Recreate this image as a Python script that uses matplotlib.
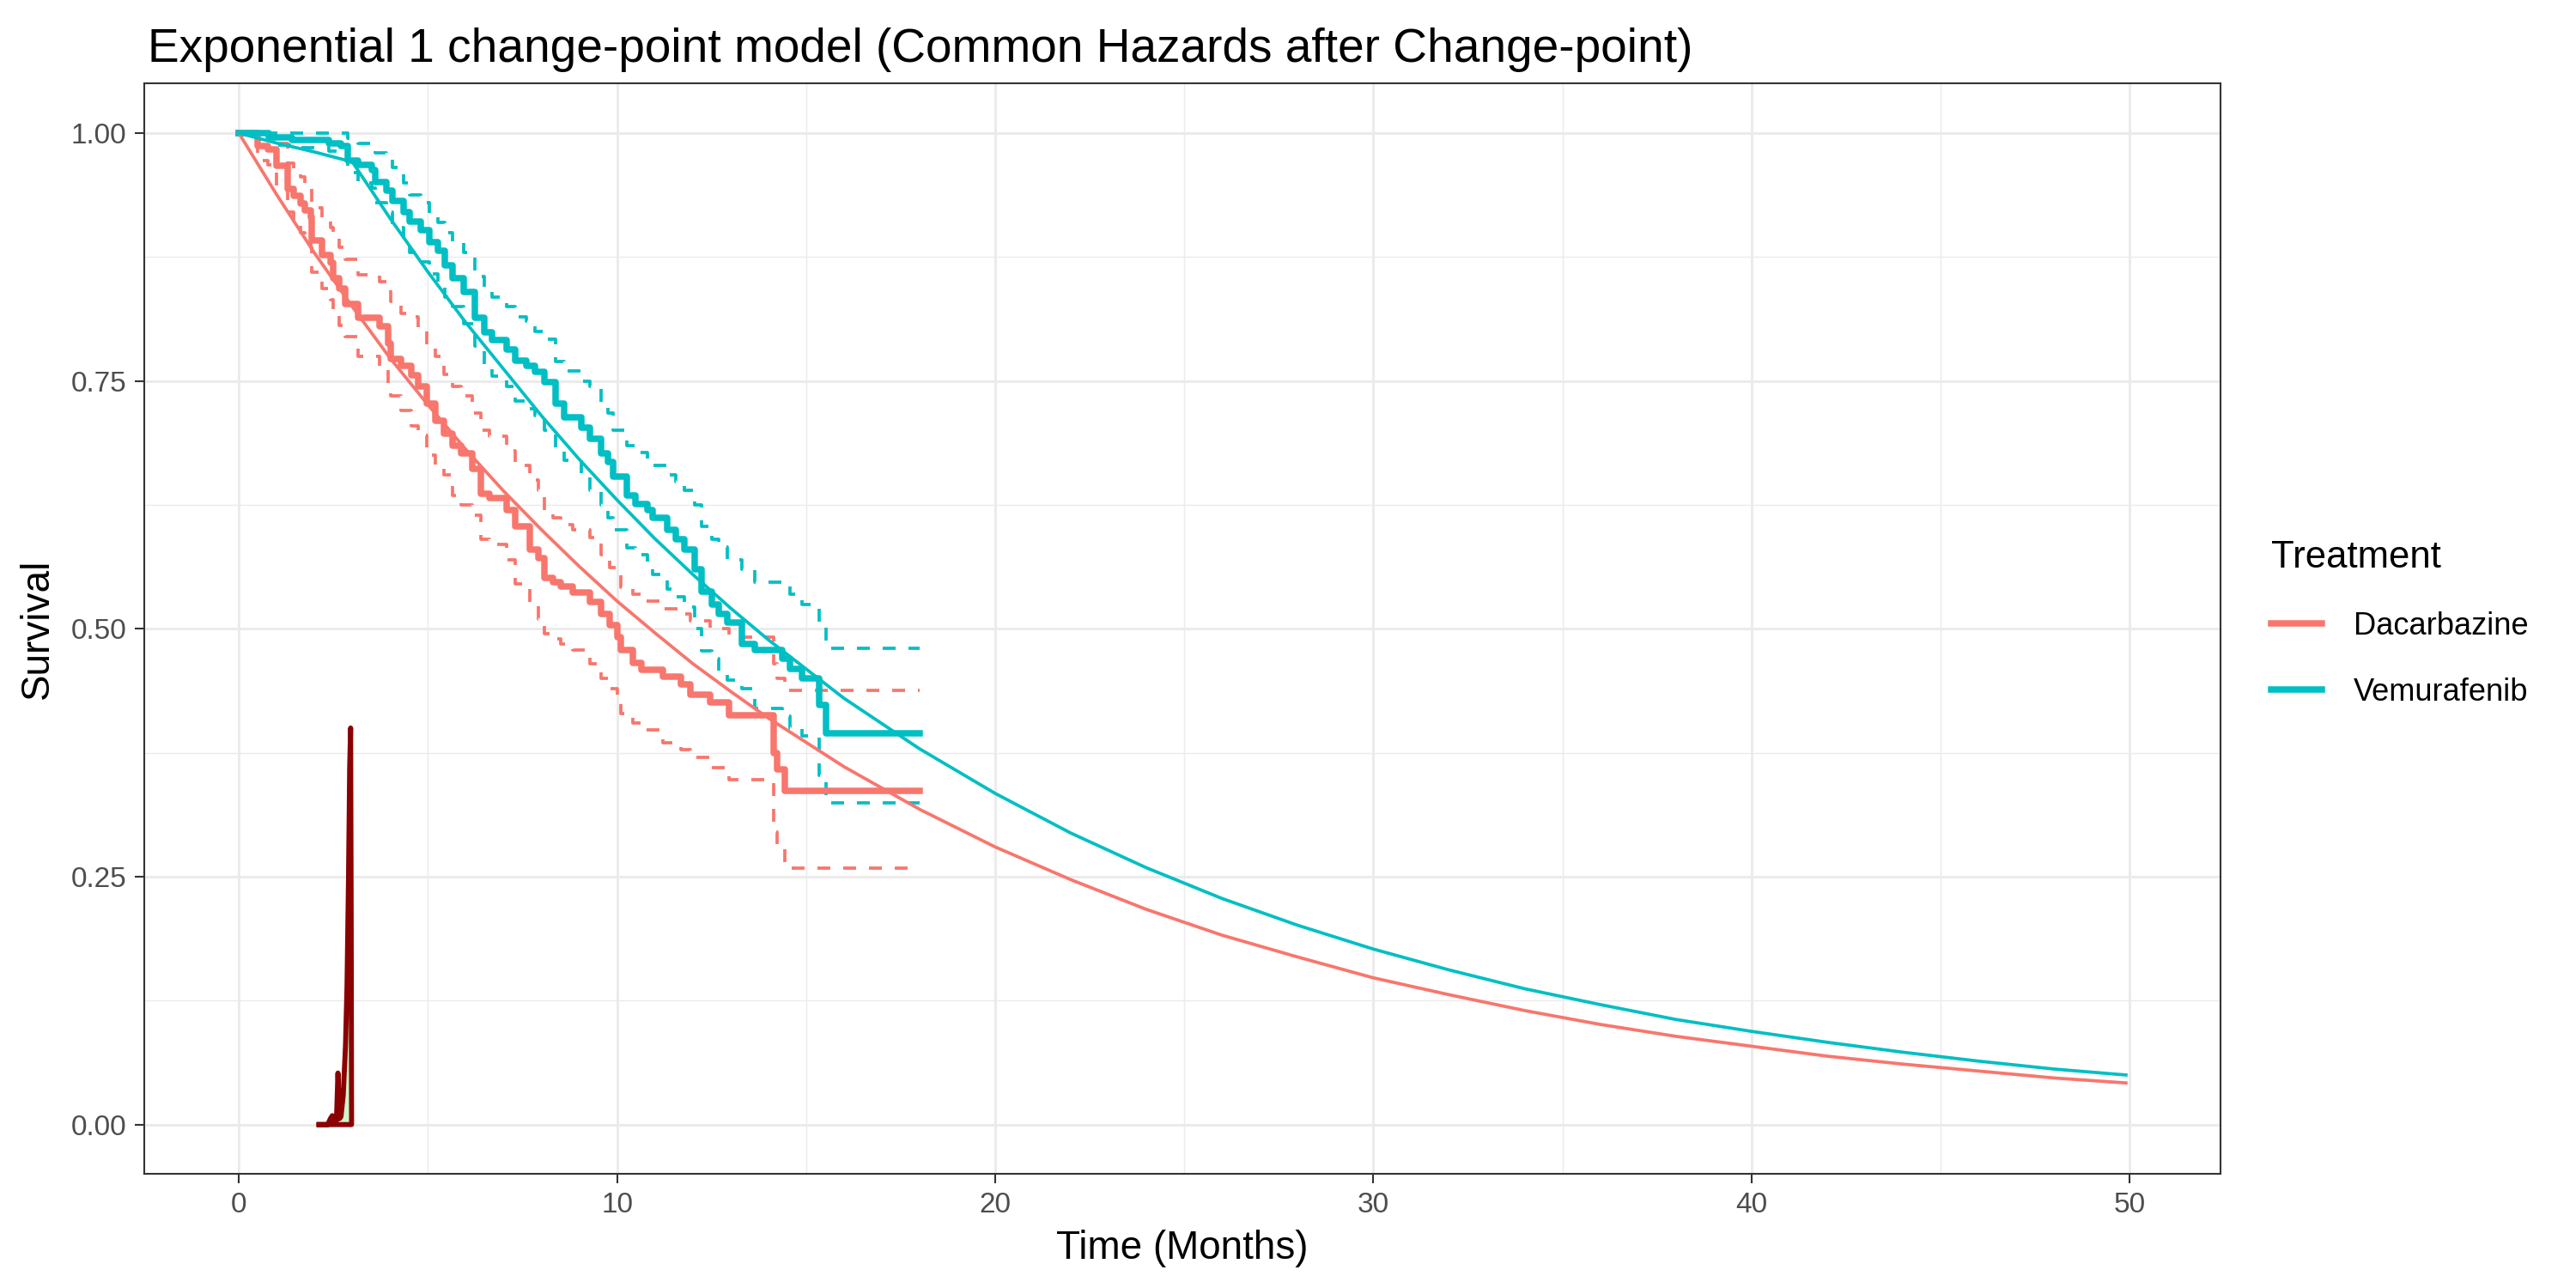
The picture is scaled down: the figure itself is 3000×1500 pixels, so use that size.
import numpy as np
import matplotlib.pyplot as plt
from matplotlib.lines import Line2D
from matplotlib.ticker import MultipleLocator

plt.rcParams['font.family'] = ['Liberation Sans', 'DejaVu Sans']

red = '#F8766D'
teal = '#00BFC4'

follow_up_end = 18.0

# Kaplan-Meier estimate with 95% band, Dacarbazine
dac_time = [0, 0.5, 0.76, 1.0, 1.3, 1.44, 1.63, 1.74, 1.9, 1.93, 2.2, 2.43, 2.5, 2.65, 2.8,
            3.15, 3.71, 3.94, 4.02, 4.28, 4.55, 4.75, 4.96, 5.19, 5.42, 5.65, 5.87, 6.18,
            6.4, 6.63, 7.08, 7.31, 7.69, 7.92, 8.07, 8.3, 8.52, 8.83, 9.28, 9.58, 9.81,
            10.0, 10.11, 10.42, 10.65, 11.21, 11.7, 11.93, 12.46, 12.95, 14.13, 14.24, 14.43]
dac_surv = [1.0, 0.987, 0.984, 0.967, 0.944, 0.9365, 0.929, 0.922, 0.915, 0.892, 0.877, 0.869,
            0.854, 0.843, 0.828, 0.814, 0.805, 0.788, 0.772, 0.765, 0.756, 0.745, 0.727, 0.710,
            0.697, 0.685, 0.677, 0.661, 0.636, 0.632, 0.620, 0.603, 0.580, 0.571, 0.551, 0.547,
            0.5425, 0.537, 0.527, 0.515, 0.5035, 0.492, 0.479, 0.466, 0.459, 0.4515, 0.444,
            0.434, 0.4256, 0.4126, 0.375, 0.358, 0.337]
dac_upper = [1.0, 1.0, 0.999, 0.990, 0.970, 0.962, 0.956, 0.950, 0.944, 0.925, 0.913, 0.905,
             0.895, 0.885, 0.873, 0.857, 0.850, 0.843, 0.830, 0.818, 0.815, 0.800, 0.785, 0.775,
             0.757, 0.745, 0.735, 0.718, 0.700, 0.694, 0.680, 0.665, 0.650, 0.640, 0.618, 0.612,
             0.605, 0.600, 0.592, 0.575, 0.562, 0.555, 0.542, 0.535, 0.528, 0.520, 0.515,
             0.508, 0.500, 0.492, 0.465, 0.450, 0.438]
dac_lower = [1.0, 0.972, 0.968, 0.945, 0.920, 0.910, 0.900, 0.893, 0.885, 0.860, 0.843, 0.832,
             0.820, 0.806, 0.795, 0.775, 0.762, 0.745, 0.735, 0.720, 0.705, 0.695, 0.675, 0.665,
             0.655, 0.635, 0.625, 0.615, 0.590, 0.585, 0.570, 0.545, 0.525, 0.510, 0.495, 0.490,
             0.485, 0.479, 0.465, 0.450, 0.440, 0.425, 0.415, 0.405, 0.398, 0.385, 0.378,
             0.370, 0.360, 0.348, 0.295, 0.278, 0.259]

# Kaplan-Meier estimate with 95% band, Vemurafenib
vem_time = [0, 0.8, 1.4, 2.39, 2.7, 2.88, 3.15, 3.52, 3.6, 3.9, 4.05, 4.36, 4.51, 4.81, 5.04,
            5.27, 5.45, 5.645, 5.95, 6.25, 6.48, 6.7, 7.08, 7.31, 7.61, 7.84, 8.07, 8.37, 8.6,
            9.05, 9.28, 9.58, 9.77, 9.89, 10.265, 10.49, 10.8, 10.95, 11.33, 11.55, 11.78,
            12.05, 12.24, 12.5, 12.69, 12.92, 13.3, 13.64, 14.36, 14.58, 14.89, 15.34, 15.53]
vem_surv = [1.0, 0.9957, 0.9928, 0.990, 0.987, 0.9726, 0.968, 0.9625, 0.951, 0.942, 0.932,
            0.9206, 0.9105, 0.902, 0.890, 0.8817, 0.867, 0.854, 0.840, 0.814, 0.799, 0.791,
            0.782, 0.7705, 0.765, 0.759, 0.749, 0.727, 0.713, 0.703, 0.692, 0.677, 0.668,
            0.6536, 0.635, 0.626, 0.620, 0.612, 0.600, 0.590, 0.580, 0.560, 0.538, 0.525,
            0.515, 0.506, 0.485, 0.479, 0.470, 0.460, 0.450, 0.423, 0.395]
vem_upper = [1.0, 1.0, 1.0, 1.0, 1.0, 0.995, 0.990, 0.987, 0.980, 0.975, 0.965, 0.950, 0.938,
             0.930, 0.918, 0.910, 0.900, 0.890, 0.880, 0.855, 0.843, 0.835, 0.825, 0.815,
             0.810, 0.800, 0.792, 0.770, 0.760, 0.750, 0.745, 0.725, 0.718, 0.700, 0.685,
             0.678, 0.668, 0.665, 0.655, 0.648, 0.640, 0.625, 0.603, 0.590, 0.583, 0.570,
             0.560, 0.547, 0.545, 0.535, 0.525, 0.505, 0.480]
vem_lower = [1.0, 0.988, 0.985, 0.982, 0.978, 0.960, 0.950, 0.945, 0.930, 0.920, 0.905, 0.892,
             0.880, 0.870, 0.858, 0.848, 0.835, 0.825, 0.808, 0.785, 0.765, 0.755, 0.745,
             0.730, 0.722, 0.715, 0.700, 0.680, 0.670, 0.655, 0.640, 0.625, 0.612, 0.600,
             0.582, 0.575, 0.562, 0.555, 0.540, 0.532, 0.522, 0.500, 0.478, 0.470, 0.456,
             0.448, 0.440, 0.420, 0.412, 0.400, 0.392, 0.352, 0.3245]

# fitted survival, exponential model with one change-point
fit_time = [0, 1, 2, 3, 4, 5, 6, 7, 8, 9, 10, 11, 12, 13, 14, 16, 18, 20, 22, 24, 26, 28, 30,
            32, 34, 36, 38, 40, 42, 44, 46, 48, 49.9]
dac_fit = [1.000, 0.938, 0.879, 0.825, 0.773, 0.726, 0.681, 0.639, 0.600, 0.563, 0.528, 0.496,
           0.465, 0.437, 0.410, 0.361, 0.318, 0.280, 0.247, 0.217, 0.191, 0.169, 0.148, 0.131,
           0.115, 0.101, 0.089, 0.079, 0.069, 0.061, 0.054, 0.047, 0.042]
vem_fit = [1.000, 0.990, 0.981, 0.971, 0.914, 0.860, 0.809, 0.762, 0.715, 0.671, 0.630, 0.591,
           0.555, 0.521, 0.489, 0.430, 0.379, 0.334, 0.294, 0.259, 0.228, 0.201, 0.177, 0.156,
           0.137, 0.121, 0.106, 0.094, 0.083, 0.073, 0.064, 0.056, 0.050]

# posterior density of the change-point (scaled)
cp_time = [2.12, 2.35, 2.42, 2.47, 2.52, 2.58, 2.62, 2.66, 2.70, 2.76, 2.82, 2.86, 2.90, 2.93,
           2.955, 2.97, 2.98]
cp_density = [0, 0, 0.006, 0.009, 0.001, 0.004, 0.052, 0.006, 0.008, 0.03, 0.08, 0.14, 0.25,
              0.36, 0.40, 0.2, 0.0]


def km_steps(t, s):
    return list(t) + [follow_up_end], list(s) + [s[-1]]


fig = plt.figure(figsize=(10, 5), dpi=300)
ax = fig.add_axes([0.0561, 0.0884, 0.862 - 0.0561, 0.9351 - 0.0884])

for t, s, up, lo, col in [(dac_time, dac_surv, dac_upper, dac_lower, red),
                          (vem_time, vem_surv, vem_upper, vem_lower, teal)]:
    ax.step(*km_steps(t, s), where='post', color=col, lw=1.8, zorder=4)
    ax.step(*km_steps(t, up), where='post', color=col, lw=0.9, ls=(0, (4, 4)), zorder=3)
    ax.step(*km_steps(t, lo), where='post', color=col, lw=0.9, ls=(0, (4, 4)), zorder=3)

ax.plot(fit_time, dac_fit, color=red, lw=0.9, zorder=5)
ax.plot(fit_time, vem_fit, color=teal, lw=0.9, zorder=5)

ax.fill_between(cp_time, cp_density, 0, color='#ccf5cc', lw=0, zorder=5)
ax.plot(cp_time + [cp_time[0]], cp_density + [cp_density[0]], color='#8B0000', lw=1.4,
        zorder=6)

ax.set_xlim(-2.495, 52.4)
ax.set_ylim(-0.05, 1.05)
ax.set_xticks([0, 10, 20, 30, 40, 50])
ax.set_yticks([0, 0.25, 0.5, 0.75, 1.0])
ax.set_yticklabels(['0.00', '0.25', '0.50', '0.75', '1.00'])
ax.xaxis.set_minor_locator(MultipleLocator(5))
ax.yaxis.set_minor_locator(MultipleLocator(0.125))
ax.grid(which='major', color='#EBEBEB', lw=0.7, zorder=0)
ax.grid(which='minor', color='#EBEBEB', lw=0.35, zorder=0)
ax.set_axisbelow(True)
ax.tick_params(which='major', length=2.6, width=0.5, color='#333333', labelcolor='#4D4D4D',
               labelsize=8, pad=2.4)
ax.tick_params(which='minor', length=0)
for sp in ax.spines.values():
    sp.set_color('#333333')
    sp.set_linewidth(0.5)

ax.set_xlabel('Time (Months)', fontsize=11, labelpad=3)
ax.set_ylabel('Survival', fontsize=11, labelpad=4)

fig.text(172 / 3000, 1 - 72 / 1500,
         'Exponential 1 change-point model (Common Hazards after Change-point)',
         fontsize=13.2, ha='left', va='baseline')

handles = [Line2D([], [], color=red, lw=1.8), Line2D([], [], color=teal, lw=1.8)]
leg = fig.legend(handles, ['Dacarbazine', 'Vemurafenib'], title='Treatment',
                 loc='upper left', bbox_to_anchor=(2630 / 3000, 1 - 615 / 1500),
                 frameon=False, fontsize=8.7, title_fontsize=10.5, handlelength=1.65,
                 handletextpad=1.0, labelspacing=1.15, borderaxespad=0)
leg._legend_box.align = 'left'

fig.savefig('out.png', dpi=300)
